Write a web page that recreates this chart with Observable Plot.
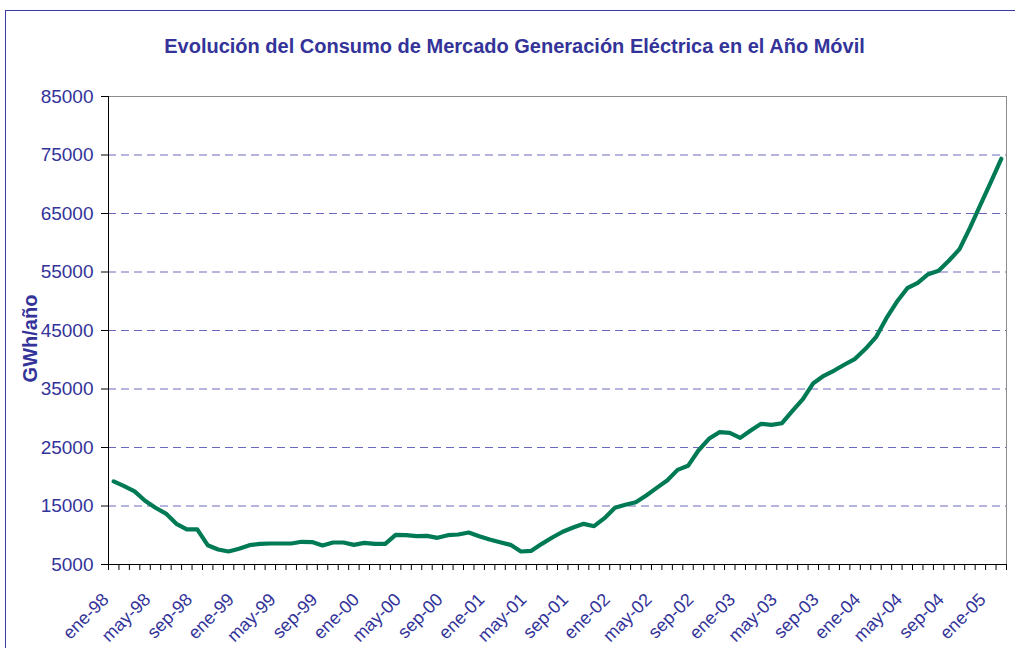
<!DOCTYPE html>
<html><head><meta charset="utf-8">
<script src="https://cdn.jsdelivr.net/npm/d3@7"></script>
<script src="https://cdn.jsdelivr.net/npm/@observablehq/plot@0.6"></script>
<style>
html,body{margin:0;padding:0;background:#fff;}
body{overflow:hidden;width:1015px;height:648px;position:relative;font-family:"Liberation Sans",Arial,sans-serif;}
#frame{position:absolute;left:5px;top:10px;width:1100px;height:800px;border:1.5px solid #3a3aa6;box-sizing:border-box;}
#title{position:relative;height:70px;box-sizing:border-box;padding-top:35px;padding-left:14px;text-align:center;font-weight:bold;font-size:20px;line-height:22px;color:#333399;white-space:nowrap;}
#chart{position:relative;}
</style></head><body>
<div id="frame"></div>
<div id="title">Evolución del Consumo de Mercado Generación Eléctrica en el Año Móvil</div>
<div id="chart"></div>
<script>
const months = [
  "ene-98","feb-98","mar-98","abr-98","may-98","jun-98","jul-98","ago-98","sep-98","oct-98","nov-98","dic-98",
  "ene-99","feb-99","mar-99","abr-99","may-99","jun-99","jul-99","ago-99","sep-99","oct-99","nov-99","dic-99",
  "ene-00","feb-00","mar-00","abr-00","may-00","jun-00","jul-00","ago-00","sep-00","oct-00","nov-00","dic-00",
  "ene-01","feb-01","mar-01","abr-01","may-01","jun-01","jul-01","ago-01","sep-01","oct-01","nov-01","dic-01",
  "ene-02","feb-02","mar-02","abr-02","may-02","jun-02","jul-02","ago-02","sep-02","oct-02","nov-02","dic-02",
  "ene-03","feb-03","mar-03","abr-03","may-03","jun-03","jul-03","ago-03","sep-03","oct-03","nov-03","dic-03",
  "ene-04","feb-04","mar-04","abr-04","may-04","jun-04","jul-04","ago-04","sep-04","oct-04","nov-04","dic-04",
  "ene-05","feb-05"
];
const values = [
  19200,18400,17500,15900,14700,13700,11950,11000,11000,8300,7560,7220,
  7680,8300,8530,8590,8590,8590,8880,8830,8250,8760,8760,8360,
  8700,8530,8530,10070,10010,9840,9900,9560,10010,10130,10470,9840,
  9270,8810,8360,7220,7340,8530,9620,10600,11320,11950,11550,12920,
  14690,15200,15650,16800,18100,19360,21180,21870,24490,26490,27620,27510,
  26650,27910,29050,28880,29150,31250,33260,35990,37250,38160,39190,40160,
  41870,43860,47110,49900,52230,53150,54620,55200,56960,58900,62550,66480,
  70360,74350
];
const tickLabels = ["ene-98","may-98","sep-98","ene-99","may-99","sep-99","ene-00","may-00","sep-00","ene-01","may-01","sep-01","ene-02","may-02","sep-02","ene-03","may-03","sep-03","ene-04","may-04","sep-04","ene-05"];
const yTicks = [5000,15000,25000,35000,45000,55000,65000,75000,85000];
const gridValues = [15000,25000,35000,45000,55000,65000,75000];
const yLabel = "GWh/año";

const W = 1015, H = 578, mL = 108, mR = 9, mT = 26, mB = 84;
const halfStep = (W - mL - mR) / months.length / 2;
const data = months.map((m, i) => ({month: m, value: values[i]}));
const textColor = "#333399";

const chart = Plot.plot({
  width: W, height: H,
  marginLeft: mL, marginRight: mR, marginTop: mT, marginBottom: mB,
  style: {fontFamily: "'Liberation Sans', Arial, sans-serif", background: "transparent", overflow: "visible"},
  x: {type: "point", domain: months, padding: 0.5, axis: null, label: null},
  y: {domain: [5000, 85000], axis: null, label: null},
  marks: [
    Plot.ruleY(gridValues, {stroke: "#6a6abd", strokeWidth: 1, strokeDasharray: "8,5"}),
    Plot.ruleY([85000], {stroke: "#8c8c8c"}),
    Plot.ruleX([months[months.length - 1]], {dx: halfStep, stroke: "#8c8c8c"}),
    Plot.ruleX([months[0]], {dx: -halfStep, stroke: "#000"}),
    Plot.ruleY([5000], {stroke: "#000"}),
    Plot.axisY({ticks: yTicks, tickSize: 7, tickFormat: () => "", color: "#000", label: null}),
    Plot.axisY({ticks: yTicks, tickSize: 0, tickPadding: 15, tickFormat: d => String(d), fontSize: 19, color: textColor, label: null}),
    Plot.axisX({ticks: months, tickSize: 6, tickFormat: () => "", dx: -halfStep, color: "#000", label: null}),
    Plot.axisX({ticks: [months[months.length - 1]], tickSize: 6, tickFormat: () => "", dx: halfStep, color: "#000", label: null}),
    Plot.text(tickLabels, {x: d => d, text: d => d, frameAnchor: "bottom", rotate: -45, textAnchor: "end", lineAnchor: "middle", dx: -8, dy: 32, fontSize: 18, fill: textColor}),
    Plot.text([yLabel], {text: d => d, frameAnchor: "left", rotate: -90, dx: -78, dy: 8, fontSize: 20, fontWeight: "bold", fill: textColor, textAnchor: "middle", lineAnchor: "middle"}),
    Plot.line(data, {x: "month", y: "value", stroke: "#007a55", strokeWidth: 4.2, strokeLinejoin: "round"})
  ]
});
document.getElementById("chart").appendChild(chart);
</script>
</body></html>
